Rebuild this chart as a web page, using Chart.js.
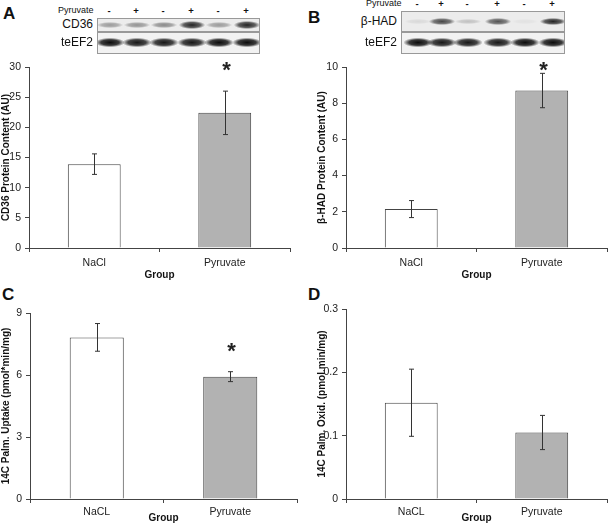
<!DOCTYPE html>
<html>
<head>
<meta charset="utf-8">
<script src="https://cdn.jsdelivr.net/npm/chart.js@4.4.1/dist/chart.umd.min.js"></script>
<style>
  body { margin: 0; background: #fff; font-family: "Liberation Sans", Arial, sans-serif; }
  #page { position: relative; width: 608px; height: 525px; overflow: hidden; }
  .panel { position: absolute; }
  .letter { position: absolute; font-weight: bold; font-size: 17px; color: #111; }
  .lbl { position: absolute; font-size: 12px; color: #111; text-align: right; }
  .sign { position: absolute; font-size: 9.5px; color: #111; width: 10px; text-align: center; font-weight: bold; }
  .box { position: absolute; border: 1px solid #999; background: #ececec; overflow: hidden; }
  .band { position: absolute; }
</style>
</head>
<body>
<div id="page">
  <div class="letter" style="left:3px;top:4px">A</div>
  <div class="letter" style="left:308px;top:8px">B</div>
  <div class="letter" style="left:2px;top:285px">C</div>
  <div class="letter" style="left:308px;top:285px">D</div>

  <div class="panel" style="left:0;top:40px;width:304px;height:242px"><canvas id="chartA"></canvas></div>
  <div class="panel" style="left:304px;top:40px;width:304px;height:242px"><canvas id="chartB"></canvas></div>
  <div class="panel" style="left:0;top:280px;width:304px;height:245px"><canvas id="chartC"></canvas></div>
  <div class="panel" style="left:304px;top:280px;width:304px;height:245px"><canvas id="chartD"></canvas></div>
</div>
<script>
// ---- data ----
const groupsTop = ['NaCl', 'Pyruvate'];
const groupsBottom = ['NaCL', 'Pyruvate'];

const cd36Mean = [13.9, 22.4];
const cd36Err = [1.7, 3.6];
const hadMean = [2.15, 8.7];
const hadErr = [0.47, 0.95];
const uptakeMean = [7.82, 5.92];
const uptakeErr = [0.67, 0.24];
const oxidMean = [0.152, 0.105];
const oxidErr = [0.053, 0.027];

const sigCd36 = [false, true];
const sigHad = [false, true];
const sigUptake = [false, true];
const sigOxid = [false, false];

// blot lanes: treatment and band darkness (0..1)
const laneSigns = ['-', '+', '-', '+', '-', '+'];
const cd36Bands = [0.35, 0.38, 0.42, 0.85, 0.35, 0.85];
const hadBands = [0.08, 0.7, 0.18, 0.65, 0.04, 0.85];
const eef2BandsA = [0.95, 0.9, 0.9, 0.9, 0.95, 0.95];
const eef2BandsB = [0.95, 0.9, 0.9, 0.9, 0.95, 0.95];

const FONT = '"Liberation Sans", Arial, sans-serif';
const page = document.getElementById('page');

//#####################
// Western blot strips
//#####################
const addEl = (cls, css, text) => {
    const el = document.createElement('div');
    el.className = cls;
    el.style.cssText = css;
    if (text) el.textContent = text;
    page.append(el);
    return el;
};

const buildBlot = (lanesX, boxLeft, boxWidth, signY, topBox, topName, bandsTop, bandsBottom) => {
    addEl('sign', `left:${lanesX[0] - 51}px;top:${signY - 6}px;width:40px;text-align:left;font-weight:normal;font-size:9px`, 'Pyruvate');
    laneSigns.forEach((s, i) => addEl('sign', `left:${lanesX[i] - 5}px;top:${signY - 6}px`, s));
    // protein of interest
    addEl('lbl', `left:${boxLeft - 44}px;top:${(topBox[0] + topBox[1]) / 2 - 7}px;width:40px`, topName);
    const b1 = addEl('box', `left:${boxLeft}px;top:${topBox[0]}px;width:${boxWidth}px;height:${topBox[1] - topBox[0]}px`);
    bandsTop.forEach((a, i) => {
        const band = document.createElement('div');
        band.className = 'band';
        const h = 4 + a * 4;
        band.style.cssText = `left:${lanesX[i] - boxLeft - 13}px;top:${(topBox[1] - topBox[0]) / 2 - h / 2}px;width:26px;height:${h}px;` +
            `background:radial-gradient(ellipse at center, rgba(0,0,0,${a}) 0%, rgba(0,0,0,${a * 0.7}) 45%, rgba(0,0,0,0) 72%)`;
        b1.append(band);
    });
    // loading control
    addEl('lbl', `left:${boxLeft - 44}px;top:35px;width:40px`, 'teEF2');
    const b2 = addEl('box', `left:${boxLeft}px;top:32px;width:${boxWidth}px;height:20px;background:#f2f2f2`);
    bandsBottom.forEach((a, i) => {
        const band = document.createElement('div');
        band.className = 'band';
        band.style.cssText = `left:${lanesX[i] - boxLeft - 14}px;top:5px;width:28px;height:9px;` +
            `background:radial-gradient(ellipse at center, rgba(0,0,0,${a}) 0%, rgba(0,0,0,${a * 0.8}) 45%, rgba(0,0,0,0) 75%)`;
        b2.append(band);
    });
};

buildBlot([109, 136, 163, 191, 218, 246], 97, 161, 11, [18, 30], 'CD36', cd36Bands, eef2BandsA);
buildBlot([417, 441, 467, 497, 524, 552], 401, 162, 4, [11, 30], 'β-HAD', hadBands, eef2BandsB);

//#####################
// Error bars + asterisks
//#####################
const errorBars = {
    id: 'errorBars',
    afterDatasetsDraw(chart, args, opts) {
        const ctx = chart.ctx;
        const meta = chart.getDatasetMeta(0);
        const yScale = chart.scales.y;
        const vals = chart.data.datasets[0].data;
        ctx.save();
        ctx.strokeStyle = '#333';
        ctx.lineWidth = 1;
        opts.err.forEach((e, i) => {
            const x = Math.round(meta.data[i].x) + 0.5;
            const top = yScale.getPixelForValue(vals[i] + e);
            const bot = yScale.getPixelForValue(vals[i] - e);
            ctx.beginPath();
            ctx.moveTo(x, top); ctx.lineTo(x, bot);
            ctx.moveTo(x - 2.5, top); ctx.lineTo(x + 2.5, top);
            ctx.moveTo(x - 2.5, bot); ctx.lineTo(x + 2.5, bot);
            ctx.stroke();
            if (opts.sig[i]) {
                ctx.fillStyle = '#222';
                ctx.font = 'bold 22px ' + FONT;
                ctx.textAlign = 'center';
                ctx.textBaseline = 'middle';
                ctx.fillText('*', x + 1, top + opts.starOffset);
            }
        });
        ctx.restore();
    }
};

//#####################
// Panels
//#####################
const makePanel = (id, labels, values, err, sig, p) => {
    new Chart(document.getElementById(id), {
        type: 'bar',
        data: {
            labels: labels,
            datasets: [{
                data: values,
                backgroundColor: ['#ffffff', '#b2b2b2'],
                borderColor: '#444',
                borderWidth: 1,
                categoryPercentage: 1,
                barPercentage: 0.405
            }]
        },
        plugins: [errorBars],
        options: {
            responsive: true,
            maintainAspectRatio: false,
            animation: false,
            layout: { padding: { top: p.top, right: p.right, left: 0, bottom: 0 } },
            plugins: {
                legend: { display: false },
                tooltip: { enabled: false },
                errorBars: { err: err, sig: sig, starOffset: p.star }
            },
            scales: {
                x: {
                    afterFit: (s) => { s.height = p.xh; },
                    grid: { drawOnChartArea: false, offset: true, color: '#444', tickLength: 4 },
                    border: { color: '#444' },
                    ticks: { color: '#222', font: { family: FONT, size: 10.5 }, padding: p.xpad, maxRotation: 0 },
                    title: { display: true, text: 'Group', color: '#111', font: { family: FONT, size: 10, weight: 'bold' }, padding: { top: 0, bottom: p.tpad } }
                },
                y: {
                    min: 0, max: p.max,
                    afterFit: (s) => { s.width = p.yw; },
                    grid: { drawOnChartArea: false, color: '#444', tickLength: 4 },
                    border: { color: '#444' },
                    ticks: { stepSize: p.step, color: '#222', font: { family: FONT, size: 10.5 }, padding: 4 },
                    title: { display: true, text: p.title, color: '#111', font: { family: FONT, size: 10, weight: 'bold' }, padding: { top: p.ytpad, bottom: 0 } }
                }
            }
        }
    });
};

makePanel('chartA', groupsTop, cd36Mean, cd36Err, sigCd36,
    { top: 27, right: 14, xh: 34, xpad: 5, tpad: 1, yw: 29, max: 30, step: 5, star: -20, ytpad: 0, title: 'CD36 Protein Content (AU)' });
makePanel('chartB', groupsTop, hadMean, hadErr, sigHad,
    { top: 27, right: 1, xh: 34, xpad: 5, tpad: 1, yw: 42, max: 10, step: 2, star: -2, ytpad: 12, title: 'β-HAD Protein Content (AU)' });
makePanel('chartC', groupsBottom, uptakeMean, uptakeErr, sigUptake,
    { top: 33, right: 7, xh: 26, xpad: 3, tpad: 1, yw: 30, max: 9, step: 3, star: -20, ytpad: 0, title: '14C Palm. Uptake (pmol*min/mg)' });
makePanel('chartD', groupsBottom, oxidMean, oxidErr, sigOxid,
    { top: 29, right: 1, xh: 26, xpad: 3, tpad: 1, yw: 42, max: 0.3, step: 0.1, star: -20, ytpad: 12, title: '14C Palm. Oxid. (pmol.min/mg)' });
</script>
</body>
</html>
